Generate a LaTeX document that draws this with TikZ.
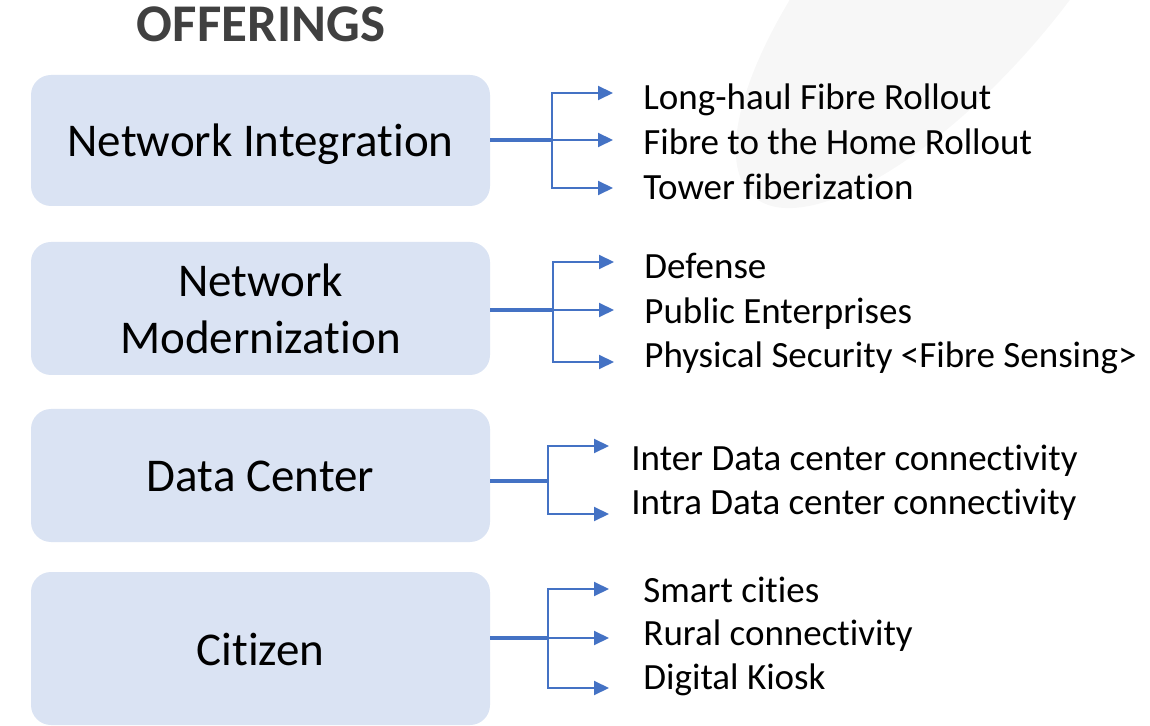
\documentclass[tikz,border=0pt]{standalone}
\usepackage{fontspec}
\setmainfont{Carlito}[Ligatures=NoCommon]
\usepackage{tikz}
\usetikzlibrary{arrows.meta, positioning}
\usepackage{xcolor}
\definecolor{boxblue}{HTML}{DAE3F3}
\definecolor{lineblue}{HTML}{4472C4}
\definecolor{titlegray}{HTML}{404040}
\definecolor{leafgray}{HTML}{F7F7F7}
\tikzstyle{category} = [rectangle, rounded corners=10pt, minimum width=229.5pt, inner sep=0pt, fill=boxblue, align=center, font=\fontsize{23.5}{28.5}\selectfont]
\tikzstyle{oneline} = [text height=16.5pt, text depth=0pt]
\tikzstyle{item} = [anchor=base west, inner sep=0pt, font=\fontsize{18.5}{22}\selectfont]
\tikzstyle{trunk} = [draw=lineblue, line width=2.2pt]
\tikzstyle{branch} = [draw=lineblue, line width=1pt, -{Triangle[length=7.5pt,width=7pt]}]

\begin{document}
\begin{tikzpicture}[x=0.5pt, y=-0.5pt]
        \useasboundingbox (0,0) rectangle (1150,726);
        % faint backdrop leaf
        \fill[leafgray, rotate around={49:(950,-30)}] (950,-30) ellipse [x radius=300, y radius=112];

        \node (title) [anchor=base, text=titlegray, font=\fontsize{26.5}{30}\selectfont\bfseries] at (261,42) {OFFERINGS};

        % categories
        \node (ni) [category, oneline, minimum height=65.5pt] at (260.5,140.5) {Network Integration};
        \node (nm) [category, minimum height=66.5pt] at (260.5,308.5) {Network\\Modernization};
        \node (dc) [category, oneline, minimum height=66.5pt] at (260.5,475.5) {Data Center};
        \node (ci) [category, oneline, minimum height=76.5pt] at (260.5,648.5) {Citizen};

        % offerings
        \node (ni1) [item] at (643,110) {Long-haul Fibre Rollout};
        \node (ni2) [item] at (643,155) {Fibre to the Home Rollout};
        \node (ni3) [item] at (643,200) {Tower fiberization};
        \node (nm1) [item] at (644,279) {Defense};
        \node (nm2) [item] at (644,323.5) {Public Enterprises};
        \node (nm3) [item] at (644,368) {Physical Security <Fibre Sensing>};
        \node (dc1) [item] at (631,471) {Inter Data center connectivity};
        \node (dc2) [item] at (631,515) {Intra Data center connectivity};
        \node (ci1) [item] at (643,602) {Smart cities};
        \node (ci2) [item] at (643,645.5) {Rural connectivity};
        \node (ci3) [item] at (643,689) {Digital Kiosk};

        % junctions and arrow tips
        \coordinate (ni-j) at (552,140);
        \coordinate (ni1-tip) at (613,93);
        \coordinate (ni2-tip) at (613,140);
        \coordinate (ni3-tip) at (613,188);
        \coordinate (nm-j) at (553,310);
        \coordinate (nm1-tip) at (614,262);
        \coordinate (nm2-tip) at (614,310);
        \coordinate (nm3-tip) at (614,362);
        \coordinate (dc-j) at (548,481);
        \coordinate (dc1-tip) at (609,446);
        \coordinate (dc2-tip) at (609,514);
        \coordinate (ci-j) at (548,638);
        \coordinate (ci1-tip) at (609,589);
        \coordinate (ci2-tip) at (609,638);
        \coordinate (ci3-tip) at (609,688);

        \draw [trunk] (ni.east |- ni-j) -- (ni-j);
        \draw [branch] (ni-j) |- (ni1-tip);
        \draw [branch] (ni-j) -- (ni2-tip);
        \draw [branch] (ni-j) |- (ni3-tip);

        \draw [trunk] (nm.east |- nm-j) -- (nm-j);
        \draw [branch] (nm-j) |- (nm1-tip);
        \draw [branch] (nm-j) -- (nm2-tip);
        \draw [branch] (nm-j) |- (nm3-tip);

        \draw [trunk] (dc.east |- dc-j) -- (dc-j);
        \draw [branch] (dc-j) |- (dc1-tip);
        \draw [branch] (dc-j) |- (dc2-tip);

        \draw [trunk] (ci.east |- ci-j) -- (ci-j);
        \draw [branch] (ci-j) |- (ci1-tip);
        \draw [branch] (ci-j) -- (ci2-tip);
        \draw [branch] (ci-j) |- (ci3-tip);
\end{tikzpicture}
\end{document}
